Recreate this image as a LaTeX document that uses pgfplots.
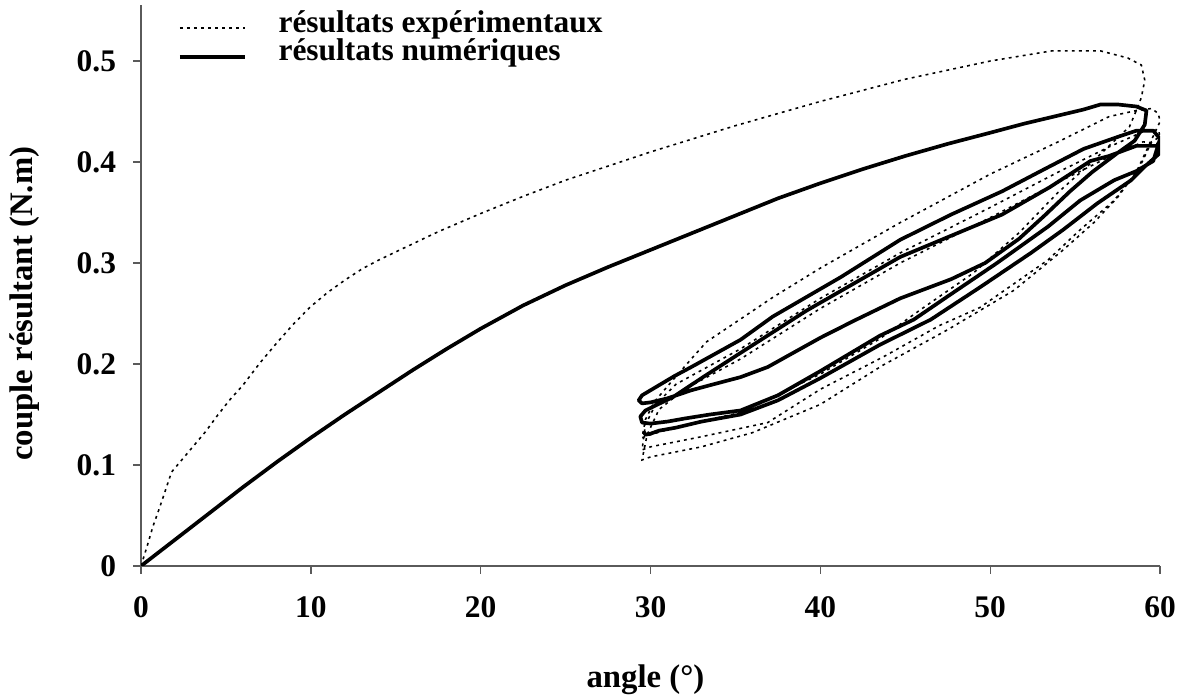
\documentclass[border=0pt]{standalone}
\usepackage{fontspec}
\setmainfont{Liberation Serif}
\usepackage{pgfplots}
\pgfplotsset{compat=1.18}
\definecolor{axisgray}{RGB}{90,90,90}
\begin{document}
\begin{tikzpicture}
\path[use as bounding box] (-53.81pt,-50.76pt) rectangle (399.18pt,216.0pt);
\begin{axis}[
  scale only axis, width=388.9pt, height=213.9pt,
  xmin=0, xmax=60, ymin=0, ymax=0.555,
  axis x line=bottom, axis y line=left,
  axis line style={-, axisgray, line width=0.5pt},
  xtick={0,10,...,60}, ytick={0,0.1,0.2,0.3,0.4,0.5},
  yticklabels={0,0.1,0.2,0.3,0.4,0.5},
  tick align=outside, major tick length=3pt,
  tick style={axisgray, line width=0.5pt},
  /pgf/number format/assume math mode=true,
  tick label style={font=\fontsize{12}{14}\selectfont\bfseries},
  xticklabel style={yshift=-5pt},
  yticklabel style={xshift=-3pt},
  xlabel={angle (°)}, ylabel={couple résultant (N.m)},
  label style={font=\fontsize{12.5}{14}\selectfont\bfseries},
  xlabel style={at={(axis description cs:0.495,-0.203)}, anchor=center},
  ylabel style={at={(axis description cs:-0.114,0.468)}, anchor=center},
  legend style={draw=none, fill=none, at={(axis description cs:0.028,1.005)}, anchor=north west,
    font=\fontsize{12}{14}\selectfont\bfseries, row sep=-1pt,
    nodes={inner sep=1pt, text height=8pt, text depth=2pt}},
  legend cell align=left,
  legend image code/.code={\draw[#1] (0pt,-1.5pt) -- (24.8pt,-1.5pt); \path (36pt,0pt);},
]
% experimental results (dotted)
\addplot[black, line width=0.6pt, dash pattern=on 1.1pt off 1.6pt] coordinates {
(0,0) (0.35,0.019) (0.7,0.039) (1.1,0.058) (1.4,0.073) (1.8,0.093) (2.3,0.103) (3.0,0.117)
(3.8,0.133) (4.5,0.149) (5.2,0.164) (6.0,0.179) (7,0.201) (8,0.221) (9,0.240) (10,0.257)
(11,0.271) (12,0.283) (13,0.294) (14,0.303) (15,0.311) (17.5,0.331) (20,0.349) (22.5,0.366)
(25,0.382) (30,0.410) (35,0.436) (40,0.460) (45,0.482) (50,0.500) (53.6,0.510)
(56.5,0.510) (58.1,0.503) (58.9,0.496) (59.1,0.481) (58.9,0.464) (58.7,0.455)
(58.2,0.435) (57.5,0.424) (56,0.400) (54,0.370) (51.7,0.330) (49,0.290) (46,0.255)
(43.5,0.225) (40,0.190) (35.3,0.152) (33,0.143) (31,0.135) (30,0.130) (29.5,0.127)
(29.7,0.145) (30.2,0.162) (31,0.178) (32.4,0.205) (33.3,0.222) (34.9,0.240) (37.2,0.266)
(40,0.295) (44.7,0.340) (50,0.388) (54,0.420) (57,0.445) (58.6,0.451) (59.5,0.453)
(59.9,0.448) (60,0.440) (59.3,0.415) (58.6,0.390) (57.3,0.362) (55.3,0.333) (53.4,0.303)
(49.4,0.256) (47,0.238) (43.7,0.207) (40,0.175) (36.9,0.142) (33,0.128) (30,0.118) (29.5,0.115)
(29.7,0.140) (30.3,0.160) (31.5,0.180) (35.3,0.215) (40,0.265) (44.7,0.310) (50,0.355)
(54,0.390) (57,0.415) (59,0.430) (59.9,0.432) (60,0.425) (59.5,0.420) (58.8,0.395)
(57.5,0.365) (56.1,0.340) (54.3,0.313) (51.4,0.273) (47.5,0.234) (43.7,0.199) (40,0.160)
(36,0.132) (33,0.118) (30,0.108) (29.5,0.105) (29.8,0.130) (30.5,0.155) (32,0.175)
(35.3,0.205) (40,0.255) (44.7,0.300) (50,0.345) (54,0.380) (57,0.405) (59,0.420) (60,0.418)
};
\addlegendentry{résultats expérimentaux}
% numerical results (solid)
\addplot[black, line width=1.4pt, line join=round] coordinates {
(0,0) (2,0.026) (4,0.052) (6,0.078) (8,0.103) (10,0.127) (12,0.150) (14,0.172) (16,0.194)
(18,0.215) (20,0.235) (22.5,0.258) (25,0.278) (27.5,0.296) (30,0.313) (32.5,0.330)
(35,0.347) (37.5,0.364) (40,0.379) (42.5,0.393) (45,0.406) (47.5,0.418) (50,0.429)
(52,0.438) (54,0.446) (55.5,0.452) (56.5,0.457) (57.5,0.457) (58.6,0.455) (59.2,0.451)
(59.1,0.437) (58.5,0.421) (57.5,0.409) (56,0.390) (54.7,0.371) (53.2,0.347) (51.7,0.324)
(49.7,0.300) (47.7,0.284) (44.7,0.265) (42,0.243) (40,0.226) (36.9,0.197) (35.3,0.187)
(33.5,0.179) (32.4,0.174) (31.0,0.166) (30.0,0.162) (29.5,0.161) (29.3,0.164) (29.5,0.169)
(29.9,0.173) (30.4,0.178) (31.4,0.188) (32.4,0.197) (35.3,0.224) (37.2,0.247) (41.2,0.286)
(44.7,0.323) (47.7,0.348) (50.7,0.371) (53.2,0.393) (55.5,0.413) (57.7,0.426) (58.6,0.431)
(59.6,0.431) (60.0,0.423) (59.6,0.401) (58.6,0.391) (57.3,0.382) (55.3,0.362) (53.4,0.336)
(50.4,0.300) (47.5,0.267) (45.5,0.244) (43.5,0.228) (40,0.193) (37.5,0.169) (35.3,0.154)
(33.5,0.150) (32,0.146) (31.0,0.143) (30.0,0.141) (29.5,0.142) (29.4,0.148) (29.7,0.154)
(30.3,0.159) (31.3,0.167) (33,0.186) (35.3,0.211) (39.2,0.253) (44.7,0.306) (50.7,0.348)
(53.5,0.375) (55.9,0.401) (57.0,0.406) (58.6,0.416) (59.9,0.416) (60.0,0.409) (59.0,0.394)
(58.3,0.382) (56.3,0.359) (54.3,0.333) (52.4,0.310) (49.4,0.276) (46.5,0.244) (43.5,0.219)
(40,0.186) (37.5,0.164) (35.3,0.150) (33,0.143) (31.5,0.137) (30.5,0.134) (30.0,0.131)
(29.7,0.130) (29.6,0.133)
};
\addlegendentry{résultats numériques}
\end{axis}
\end{tikzpicture}
\end{document}
